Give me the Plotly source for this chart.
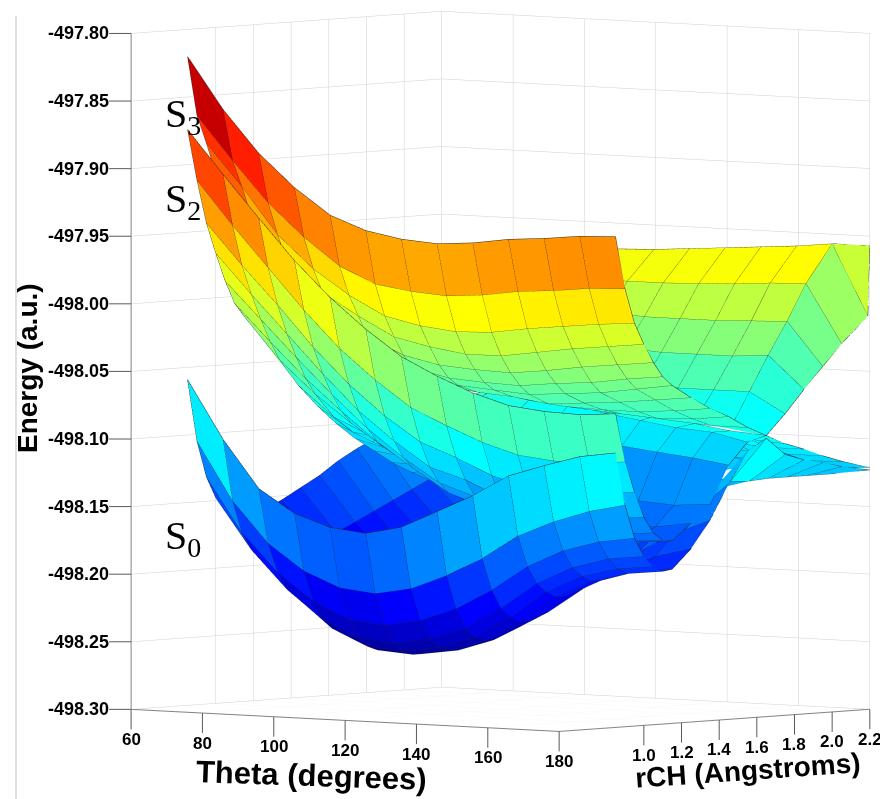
import plotly.graph_objects as go

# Angle grid (degrees) and bond length grids (Angstrom)
theta = [60, 70, 80, 90, 100, 110, 120, 130, 140, 150, 160, 170, 180]
rch = [0.85, 0.90, 0.95, 1.00, 1.05, 1.10, 1.15, 1.25, 1.35, 1.45, 1.55, 1.65, 1.75, 1.85, 1.95, 2.05, 2.20]
rch_s3 = [0.85, 0.90, 0.95, 1.00, 1.05, 1.10, 1.15, 1.25, 1.35, 1.45, 1.55, 1.65, 1.75, 1.85, 1.95, 2.05, 2.19, 2.20]

# Energies in mHa relative to -498 a.u.; one list per theta, one value per rch
s3 = [
    [180, 136, 115, 92, 72, 55, 42, 22, 5, -8, -20, -30, -28, -15, -3, 8, 20, 20],
    [142, 104, 84, 62, 42, 26, 12, -6, -22, -34, -44, -52, -46, -30, -12, 6, 24, 24],
    [111, 74, 50, 30, 12, -4, -16, -34, -48, -58, -64, -62, -50, -32, -12, 8, 27, 27],
    [87, 50, 26, 8, -8, -20, -28, -42, -52, -58, -62, -63, -52, -32, -12, 8, 28, 28],
    [68, 30, 8, -8, -24, -34, -42, -52, -58, -62, -64, -65, -52, -32, -12, 9, 30, 30],
    [58, 18, -6, -22, -36, -46, -52, -60, -62, -62, -63, -66, -54, -32, -12, 9, 31, 31],
    [53, 14, -12, -28, -42, -52, -58, -64, -66, -67, -68, -70, -56, -34, -12, 10, 32, 32],
    [51, 12, -15, -32, -44, -54, -60, -66, -70, -72, -73, -74, -58, -36, -14, 10, 34, 34],
    [53, 14, -14, -32, -45, -55, -62, -70, -73, -76, -77, -77, -60, -38, -14, 11, 36, 36],
    [57, 18, -10, -28, -42, -52, -60, -68, -74, -78, -80, -80, -62, -38, -14, 12, 38, 38],
    [59, 20, -7, -24, -38, -50, -58, -66, -74, -80, -83, -84, -62, -38, -13, 14, 40, 40],
    [62, 23, -4, -21, -35, -46, -54, -63, -72, -79, -85, -88, -62, -36, -12, 15, 43, 43],
    [63, 24, -2, -18, -32, -43, -50, -60, -69, -76, -85, -92, -77, -60, -44, -28, -9, 43],
]
s2 = [
    [126, 88, 56, 33, 12, -5, -15, -29, -38, -53, -68, -83, -97, -110, -123, -134, -149],
    [94, 56, 26, 4, -15, -32, -46, -66, -82, -96, -108, -118, -128, -136, -143, -150, -157],
    [63, 26, -2, -24, -42, -58, -70, -88, -100, -108, -115, -122, -128, -134, -140, -146, -154],
    [33, -4, -32, -52, -68, -81, -90, -100, -104, -100, -90, -85, -112, -120, -128, -136, -150],
    [7, -31, -58, -78, -92, -102, -108, -112, -104, -88, -74, -72, -96, -108, -120, -130, -145],
    [-15, -53, -80, -99, -112, -120, -124, -118, -96, -72, -65, -68, -85, -100, -115, -125, -140],
    [-34, -72, -98, -117, -129, -137, -140, -132, -108, -82, -70, -72, -85, -100, -112, -122, -136],
    [-47, -84, -108, -125, -138, -146, -148, -140, -118, -90, -75, -75, -88, -100, -110, -120, -132],
    [-58, -95, -120, -137, -149, -156, -158, -150, -128, -95, -80, -78, -90, -100, -110, -118, -128],
    [-66, -103, -128, -146, -157, -164, -165, -157, -136, -102, -84, -81, -92, -100, -108, -116, -125],
    [-69, -106, -130, -148, -160, -166, -167, -159, -140, -105, -88, -86, -94, -102, -109, -116, -124],
    [-70, -106, -129, -148, -160, -166, -167, -157, -142, -108, -90, -90, -97, -104, -110, -116, -123],
    [-68, -104, -127, -146, -158, -164, -165, -153, -140, -112, -96, -92, -99, -104, -110, -115, -121],
]
s0 = [
    [-59, -105, -132, -148, -156, -160, -162, -160, -153, -145, -137, -127, -119, -112, -128, -140, -160],
    [-102, -148, -172, -185, -191, -194, -195, -192, -185, -177, -170, -163, -156, -149, -142, -140, -158],
    [-137, -178, -200, -213, -219, -222, -222, -217, -210, -204, -197, -192, -185, -178, -170, -162, -155],
    [-154, -197, -220, -234, -241, -244, -244, -238, -226, -214, -204, -194, -183, -172, -162, -154, -151],
    [-163, -208, -232, -246, -253, -256, -256, -250, -236, -220, -206, -192, -180, -168, -158, -150, -146],
    [-166, -211, -235, -249, -255, -258, -258, -252, -238, -220, -201, -182, -165, -152, -144, -141, -145],
    [-160, -206, -230, -244, -251, -254, -254, -248, -234, -217, -198, -180, -164, -152, -144, -140, -142],
    [-147, -195, -220, -235, -242, -245, -245, -239, -226, -210, -193, -176, -161, -150, -142, -138, -139],
    [-134, -181, -205, -219, -226, -230, -230, -224, -212, -198, -182, -167, -154, -145, -138, -135, -135],
    [-118, -163, -186, -199, -206, -210, -210, -205, -194, -181, -167, -153, -143, -137, -134, -132, -132],
    [-109, -151, -173, -186, -193, -197, -197, -191, -178, -165, -151, -138, -132, -130, -129, -129, -129],
    [-101, -142, -165, -178, -186, -190, -189, -179, -163, -148, -135, -127, -128, -127, -127, -127, -127],
    [-97, -136, -161, -175, -183, -187, -186, -172, -152, -126, -103, -94, -107, -112, -115, -119, -123],
]

theta_ticks = [60, 80, 100, 120, 140, 160, 180]
rch_ticks = [1.0, 1.2, 1.4, 1.6, 1.8, 2.0, 2.2]
rch_labels = ["1.0", "1.2", "1.4", "1.6", "1.8", "2.0", "2.2"]
energy_ticks = [-498.30, -498.25, -498.20, -498.15, -498.10, -498.05, -498.00, -497.95, -497.90, -497.85, -497.80]
energy_labels = ["-498.30", "-498.25", "-498.20", "-498.15", "-498.10", "-498.05", "-498.00", "-497.95", "-497.90", "-497.85", "-497.80"]

THETA_RANGE = [60, 180]
RCH_RANGE = [0.55, 2.2]
ENERGY_RANGE = [-498.30, -497.80]

JET = [[0, "rgb(0,0,143)"], [0.125, "rgb(0,0,255)"], [0.375, "rgb(0,255,255)"],
       [0.625, "rgb(255,255,0)"], [0.875, "rgb(255,0,0)"], [1, "rgb(80,0,0)"]]


def energy(v):
    return -498 + v / 1000


def sheet(table, rgrid):
    nt, nr = len(theta), len(rgrid)
    xs, ys, zs, ii, jj, kk, cell = [], [], [], [], [], [], []
    for a in range(nt):
        for b in range(nr):
            xs.append(theta[a]); ys.append(rgrid[b]); zs.append(energy(table[a][b]))
    for a in range(nt - 1):
        for b in range(nr - 1):
            p = a * nr + b
            q = (a + 1) * nr + b
            ii += [p, p]; jj += [q, q + 1]; kk += [q + 1, p + 1]
            c = energy(table[a + 1][b])
            cell += [c, c]
    mesh = go.Mesh3d(x=xs, y=ys, z=zs, i=ii, j=jj, k=kk, intensity=cell, intensitymode="cell",
                     colorscale=JET, cmin=-498.26, cmax=-497.82, showscale=False, flatshading=True,
                     lighting=dict(ambient=1, diffuse=0, specular=0, roughness=1, fresnel=0),
                     hoverinfo="skip")
    lx, ly, lz = [], [], []
    for a in range(nt):
        for b in range(nr):
            lx.append(theta[a]); ly.append(rgrid[b]); lz.append(energy(table[a][b]))
        lx.append(None); ly.append(None); lz.append(None)
    for b in range(nr):
        for a in range(nt):
            lx.append(theta[a]); ly.append(rgrid[b]); lz.append(energy(table[a][b]))
        lx.append(None); ly.append(None); lz.append(None)
    lines = go.Scatter3d(x=lx, y=ly, z=lz, mode="lines", line=dict(color="rgb(35,35,35)", width=1),
                         hoverinfo="skip", showlegend=False)
    return [mesh, lines]


fig = go.Figure()
for t, g in ((s0, rch), (s2, rch), (s3, rch_s3)):
    for tr in sheet(t, g):
        fig.add_trace(tr)

ax = dict(showbackground=False, showgrid=True, gridcolor="rgb(208,208,208)", gridwidth=1,
          showline=True, linecolor="rgb(130,130,130)", linewidth=2, ticks="", showticklabels=False,
          title="", showspikes=False, zeroline=False)


def note(text, px, py, size, family="Liberation Sans", angle=0):
    return dict(text=text, x=px / 888, y=1 - py / 799, xref="paper", yref="paper", xanchor="center",
                yanchor="middle", showarrow=False, textangle=angle,
                font=dict(size=size, family=family, color="black"))


def tick(text, x, y, z, off_x, off_y, size):
    return dict(text="<b>" + text + "</b>", x=x, y=y, z=z, ax=off_x, ay=off_y, showarrow=True,
                arrowhead=0, arrowwidth=1, arrowcolor="rgb(90,90,90)", standoff=0, borderpad=0,
                font=dict(size=size, family="Liberation Sans", color="black"))


tick_notes = []
for t in theta_ticks:
    tick_notes.append(tick(str(t), t, RCH_RANGE[0], ENERGY_RANGE[0], 0, 30, 17))
for r, lab in zip(rch_ticks, rch_labels):
    tick_notes.append(tick(lab, THETA_RANGE[1], r, ENERGY_RANGE[0], 0, 30, 17))
for e, lab in zip(energy_ticks, energy_labels):
    tick_notes.append(tick(lab, THETA_RANGE[0], RCH_RANGE[0], e, -53, 0, 18))

# camera look-at offset shifts the box on the page; eye keeps the same direction
dx, dy, dz = -0.092, -0.079, -0.0906
fig.update_layout(
    width=888, height=799, margin=dict(l=0, r=0, t=0, b=0), paper_bgcolor="white", showlegend=False,
    font=dict(family="Liberation Sans"),
    shapes=[dict(type="line", xref="paper", yref="paper", x0=8 / 888, x1=8 / 888, y0=1 - 793 / 799, y1=1 - 8 / 799,
                 line=dict(color="rgb(195,195,195)", width=1))],
    scene=dict(
        domain=dict(x=[0, 1], y=[0, 1]),
        xaxis=dict(ax, range=THETA_RANGE, tickvals=theta_ticks),
        yaxis=dict(ax, range=RCH_RANGE, tickvals=rch_ticks),
        zaxis=dict(ax, range=ENERGY_RANGE, tickvals=energy_ticks),
        aspectmode="manual", aspectratio=dict(x=1.406, y=1.201, z=1.695),
        camera=dict(eye=dict(x=0.661 + dx, y=-0.778 + dy, z=0.062 + dz), center=dict(x=dx, y=dy, z=dz),
                    up=dict(x=0, y=0, z=1), projection=dict(type="orthographic")),
        annotations=tick_notes,
    ),
    annotations=[
        note("<b>Energy (a.u.)</b>", 19, 360, 28, angle=-90),
        note("<b>Theta (degrees)</b>", 303, 767, 31, angle=2),
        note("<b>rCH (Angstroms)</b>", 740, 762, 28, angle=-4),
        note("S<sub>3</sub>", 175, 108, 40, "Liberation Serif"),
        note("S<sub>2</sub>", 175, 193, 40, "Liberation Serif"),
        note("S<sub>0</sub>", 175, 530, 40, "Liberation Serif"),
    ],
)
fig.write_html("out.html")
